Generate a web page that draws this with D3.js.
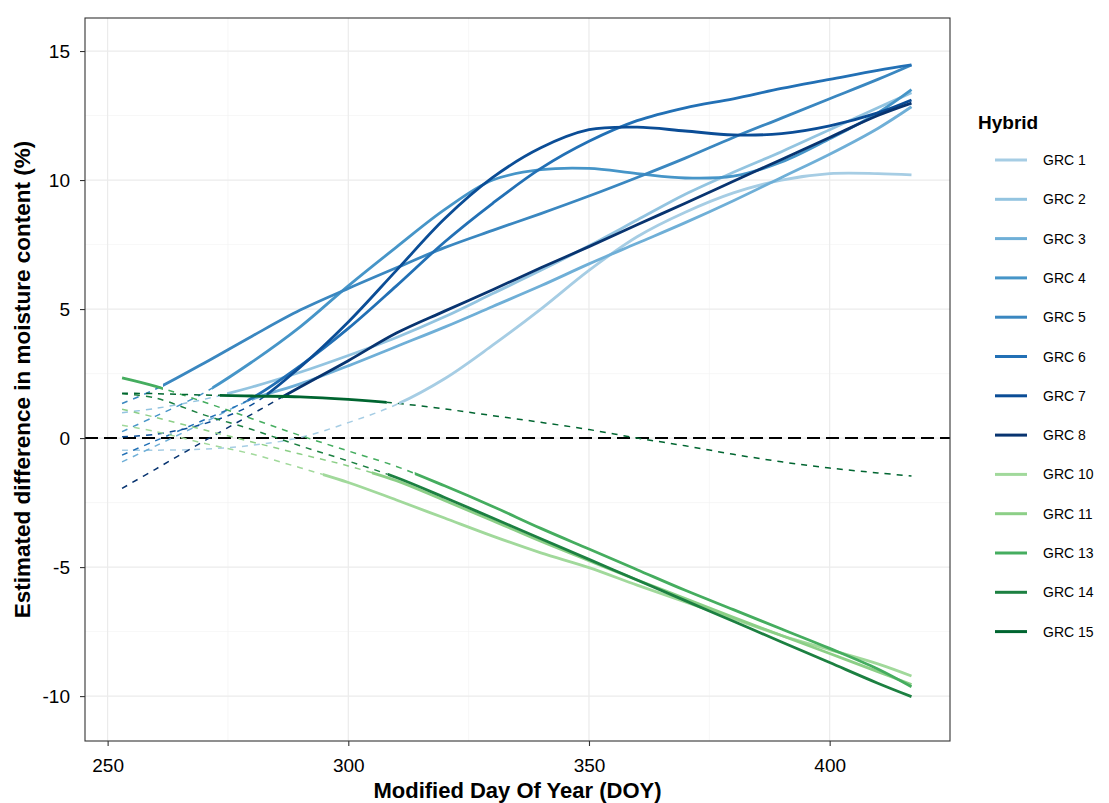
<!DOCTYPE html>
<html><head><meta charset="utf-8">
<script src="https://cdn.jsdelivr.net/npm/d3@7"></script>
<style>body{margin:0;background:#fff;} svg{display:block;font-family:"Liberation Sans",Arial,sans-serif;}</style>
</head><body><svg id="c" width="1109" height="803"></svg>
<script>
// ---- data ----
const doy = [253,260,270,280,290,300,310,320,330,340,350,360,370,380,390,400,410,417];
const hybrids = ["GRC 1","GRC 2","GRC 3","GRC 4","GRC 5","GRC 6","GRC 7","GRC 8","GRC 10","GRC 11","GRC 13","GRC 14","GRC 15"];
const colors = ["#a6cde4","#93c4e0","#6fafd7","#4695c8","#3a87c0","#2270b5","#0b4d96","#083470",
                "#a1d99b","#8ccf87","#45ad5f","#1c8041","#006530"];
const grc1  = [-0.47,-0.47,-0.43,-0.28,0.02,0.6,1.3,2.3,3.6,5.0,6.5,7.8,8.75,9.5,10.0,10.25,10.25,10.2];
const grc2  = [0.98,1.15,1.5,1.98,2.55,3.2,3.9,4.7,5.6,6.5,7.45,8.45,9.45,10.3,11.1,11.95,12.8,13.38];
const grc3  = [-0.92,-0.3,0.6,1.5,2.1,2.8,3.55,4.3,5.1,5.9,6.75,7.55,8.35,9.2,10.1,11.0,12.0,12.84];
const grc4  = [0.25,0.85,1.75,2.95,4.31,5.9,7.4,8.85,10.0,10.4,10.45,10.25,10.08,10.15,10.7,11.6,12.6,13.5];
const grc5  = [1.34,1.9,2.9,3.95,4.96,5.8,6.6,7.38,8.05,8.7,9.38,10.1,10.85,11.65,12.4,13.15,13.9,14.46];
const grc6  = [-0.66,-0.1,0.7,1.55,2.8,4.25,5.9,7.6,9.1,10.45,11.5,12.3,12.8,13.15,13.55,13.9,14.25,14.46];
const grc7  = [0.05,0.15,0.55,1.3,2.75,4.5,6.5,8.5,10.1,11.25,11.95,12.05,11.9,11.75,11.8,12.1,12.6,13.1];
const grc8  = [-1.95,-1.2,-0.12,0.93,1.98,3.0,4.07,4.92,5.75,6.6,7.42,8.27,9.1,9.95,10.8,11.65,12.5,12.98];
const grc10 = [0.5,0.25,-0.2,-0.62,-1.15,-1.72,-2.4,-3.1,-3.8,-4.45,-5.02,-5.7,-6.35,-7.0,-7.65,-8.2,-8.75,-9.22];
const grc11 = [1.12,0.8,0.32,-0.15,-0.62,-1.08,-1.65,-2.42,-3.2,-4.0,-4.75,-5.5,-6.22,-6.95,-7.65,-8.35,-9.05,-9.55];
const grc13 = [2.33,2.0,1.4,0.75,0.1,-0.5,-1.1,-1.85,-2.65,-3.5,-4.3,-5.1,-5.9,-6.65,-7.4,-8.15,-8.95,-9.64];
const grc14 = [1.72,1.55,0.9,0.33,-0.3,-0.89,-1.53,-2.3,-3.1,-3.9,-4.7,-5.5,-6.3,-7.1,-7.9,-8.7,-9.5,-10.02];
const grc15 = [1.74,1.72,1.67,1.63,1.6,1.5,1.35,1.13,0.87,0.61,0.33,0.0,-0.3,-0.63,-0.92,-1.16,-1.35,-1.47];
const seriesValues = [grc1,grc2,grc3,grc4,grc5,grc6,grc7,grc8,grc10,grc11,grc13,grc14,grc15];
// DOY ranges where each estimate is drawn solid (significant); elsewhere dashed
const solidRanges = [
  [[310.5,417]],[[274.8,417]],[[280,417]],[[271.7,417]],[[261.5,417]],[[279,417]],[[283,417]],[[286.3,417]],
  [[294.7,417]],[[304.9,417]],[[253,261.5],[313.8,417]],[[308.2,417]],[[273.3,308]]
];
const xTicks = [250,300,350,400];
const xMinor = [275,325,375];
const yTicks = [-10,-5,0,5,10,15];
const yMinor = [-7.5,-2.5,2.5,7.5,12.5];

// ---- layout ----
const P = {l:85, t:18, r:950, b:741};
const x = d3.scaleLinear().domain([245.3,425.0]).range([P.l,P.r]);
const y = d3.scaleLinear().domain([-11.74,16.28]).range([P.b,P.t]);
const svg = d3.select("#c");
const defs = svg.append("defs");

// grid
const g = svg.append("g");
g.selectAll(".xm").data(xMinor).join("line").attr("x1",d=>x(d)).attr("x2",d=>x(d)).attr("y1",P.t).attr("y2",P.b)
  .attr("stroke","#f2f2f2").attr("stroke-width",0.6);
g.selectAll(".ym").data(yMinor).join("line").attr("y1",d=>y(d)).attr("y2",d=>y(d)).attr("x1",P.l).attr("x2",P.r)
  .attr("stroke","#f2f2f2").attr("stroke-width",0.6);
g.selectAll(".xM").data(xTicks).join("line").attr("x1",d=>x(d)).attr("x2",d=>x(d)).attr("y1",P.t).attr("y2",P.b)
  .attr("stroke","#ebebeb").attr("stroke-width",1.2);
g.selectAll(".yM").data(yTicks).join("line").attr("y1",d=>y(d)).attr("y2",d=>y(d)).attr("x1",P.l).attr("x2",P.r)
  .attr("stroke","#ebebeb").attr("stroke-width",1.2);

// zero line
svg.append("line").attr("x1",P.l).attr("x2",P.r).attr("y1",y(0)).attr("y2",y(0))
  .attr("stroke","#000").attr("stroke-width",2).attr("stroke-dasharray","13,6");

const line = d3.line().x((d,i)=>x(doy[i])).y(d=>y(d)).curve(d3.curveCatmullRom.alpha(0.5));

function complement(ranges){
  const out=[]; let s=doy[0];
  ranges.forEach(r=>{ if(r[0]>s) out.push([s,r[0]]); s=r[1]; });
  if(s<doy[doy.length-1]) out.push([s,doy[doy.length-1]]);
  return out;
}
function clipFor(id, ranges){
  const cp = defs.append("clipPath").attr("id",id);
  ranges.forEach(r=>{
    const x0 = r[0]<=doy[0] ? x(r[0])-3 : x(r[0]);
    const x1 = r[1]>=doy[doy.length-1] ? x(r[1])+3 : x(r[1]);
    cp.append("rect").attr("x",x0).attr("y",0).attr("width",x1-x0).attr("height",803);
  });
  return "url(#"+id+")";
}

const gd = svg.append("g"), gs = svg.append("g");
seriesValues.forEach((vals,k)=>{
  const dashR = complement(solidRanges[k]);
  if(dashR.length){
    gd.append("path").attr("d",line(vals)).attr("fill","none").attr("stroke",colors[k])
      .attr("stroke-width",1.5).attr("stroke-dasharray","6,6").attr("clip-path",clipFor("d"+k,dashR));
  }
  gs.append("path").attr("d",line(vals)).attr("fill","none").attr("stroke",colors[k])
    .attr("stroke-width",2.8).attr("clip-path",clipFor("s"+k,solidRanges[k]));
});

// border
svg.append("rect").attr("x",P.l).attr("y",P.t).attr("width",P.r-P.l).attr("height",P.b-P.t)
  .attr("fill","none").attr("stroke","#333").attr("stroke-width",1.1);

// axes
const fmt = d => String(d);
const ax = svg.append("g").attr("transform",`translate(0,${P.b})`)
  .call(d3.axisBottom(x).tickValues(xTicks).tickFormat(fmt).tickSize(5).tickPadding(13));
const ay = svg.append("g").attr("transform",`translate(${P.l},0)`)
  .call(d3.axisLeft(y).tickValues(yTicks).tickFormat(fmt).tickSize(5).tickPadding(10));
[ax,ay].forEach(a=>{
  a.select(".domain").remove();
  a.selectAll(".tick line").attr("stroke","#333").attr("stroke-width",1.1);
  a.selectAll(".tick text").attr("fill","#000").style("font-size","19px").style("font-family","'Liberation Sans',Arial,sans-serif");
});

// titles
svg.append("text").attr("x",(P.l+P.r)/2).attr("y",798).attr("text-anchor","middle")
  .style("font-size","22px").style("font-weight","bold").text("Modified Day Of Year (DOY)");
svg.append("text").attr("transform",`translate(30,${(P.t+P.b)/2}) rotate(-90)`).attr("text-anchor","middle")
  .style("font-size","22.5px").style("font-weight","bold").text("Estimated difference in moisture content (%)");

// legend
const lg = svg.append("g");
lg.append("text").attr("x",978).attr("y",129).style("font-size","19px").style("font-weight","bold").text("Hybrid");
hybrids.forEach((h,k)=>{
  const yy = 160 + k*39.3;
  lg.append("line").attr("x1",995).attr("x2",1027).attr("y1",yy).attr("y2",yy).attr("stroke",colors[k]).attr("stroke-width",3);
  lg.append("text").attr("x",1043).attr("y",yy+5).style("font-size","14px").text(h);
});
</script></body></html>
